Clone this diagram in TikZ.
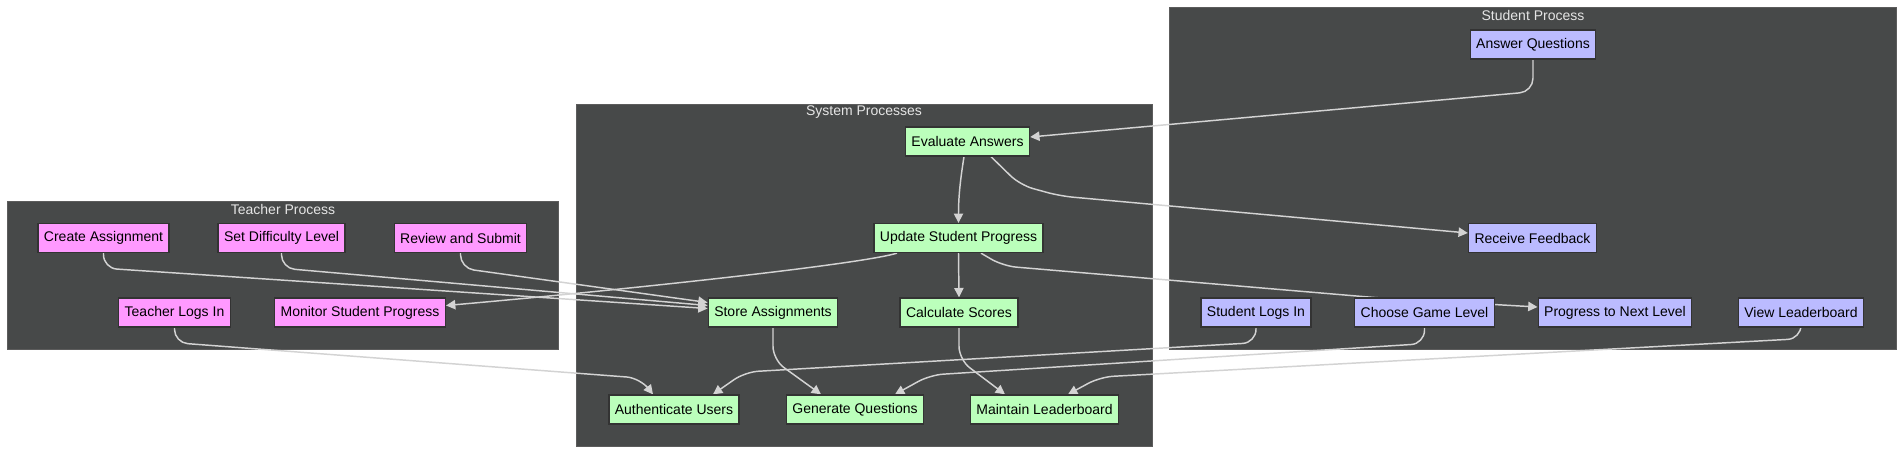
\documentclass[tikz,border=0pt]{standalone}
\usepackage{fontspec}
\setmainfont{Liberation Sans}
\usetikzlibrary{arrows.meta}
\definecolor{clusterbg}{HTML}{474949}
\definecolor{clusterline}{HTML}{5C5C5C}
\definecolor{teacherfill}{HTML}{FF99FF}
\definecolor{systemfill}{HTML}{BBFFBB}
\definecolor{studentfill}{HTML}{BBBBFF}
\definecolor{nodeline}{HTML}{333333}
\definecolor{edgecol}{HTML}{D3D3D3}
\pgfdeclarelayer{back}
\pgfdeclarelayer{mid}
\pgfsetlayers{back,mid,main}

\begin{document}
\begin{tikzpicture}[x=0.75pt,y=-0.75pt,
    box/.style={draw=nodeline,line width=1pt,minimum height=21.75pt,inner xsep=4.5pt,font=\fontsize{10.5}{12}\selectfont},
    teacher/.style={box,fill=teacherfill},
    system/.style={box,fill=systemfill},
    student/.style={box,fill=studentfill},
    flow/.style={draw=edgecol,line width=1.1pt,rounded corners=10pt,-{Triangle[length=7pt,width=7pt]}},
    title/.style={text=white!90!black,font=\fontsize{10.5}{12}\selectfont}]
            \useasboundingbox (0,0) rectangle (1904,454);
            % les trois groupes
            \begin{pgfonlayer}{back}
                \foreach \a/\b in {{(7,201)}/{(558,349)}, {(576,104)}/{(1152,446)}, {(1169,7)}/{(1896,349)}}{
                    \filldraw[fill=clusterbg, draw=clusterline, line width=.6pt] \a rectangle \b;
                }
            \end{pgfonlayer}
            \node[title] (tteacher) at (283,209) {Teacher Process};
            \node[title] (tsystem) at (864,112) {System Processes};
            \node[title] (tstudent) at (1533,15) {Student Process};

            % enseignant
            \node[teacher] (create) at (103.5,238) {Create Assignment};
            \node[teacher] (setlevel) at (281.5,238) {Set Difficulty Level};
            \node[teacher] (review) at (460.5,238) {Review and Submit};
            \node[teacher] (tlogin) at (174.5,312.5) {Teacher Logs In};
            \node[teacher] (monitor) at (360,312.5) {Monitor Student Progress};

            % système
            \node[system] (evaluate) at (967.5,141.5) {Evaluate Answers};
            \node[system] (update) at (958.5,238) {Update Student Progress};
            \node[system] (store) at (773,312.5) {Store Assignments};
            \node[system] (calc) at (959,312.5) {Calculate Scores};
            \node[system] (auth) at (674,409.5) {Authenticate Users};
            \node[system] (generate) at (855,409.5) {Generate Questions};
            \node[system] (board) at (1044.5,409.5) {Maintain Leaderboard};

            % élève
            \node[student] (answer) at (1533,44.5) {Answer Questions};
            \node[student] (feedback) at (1532.5,238) {Receive Feedback};
            \node[student] (slogin) at (1256,312.5) {Student Logs In};
            \node[student] (choose) at (1424.5,312.5) {Choose Game Level};
            \node[student] (nextlevel) at (1615,312.5) {Progress to Next Level};
            \node[student] (viewboard) at (1801,312.5) {View Leaderboard};

            \begin{pgfonlayer}{mid}
                \draw[flow] (create.south) -- ++(0,15) -- ([shift={(0,-4)}]store.west);
                \draw[flow] (setlevel.south) -- ++(0,15) -- ([shift={(0,-7)}]store.west);
                \draw[flow] (review.south) -- ++(0,15) -- ([shift={(0,-10)}]store.west);
                \draw[flow] ([shift={(-61.5,0)}]update.south) .. controls +(-40,12) and +(160,-14) .. ([shift={(0,-7)}]monitor.east);
                \draw[flow] (tlogin.south) -- ++(0,15) -- (640,378) -- ([shift={(-21,0)}]auth.north);
                \draw[flow] (store.south) -- ++(0,32) -- ([shift={(-34,0)}]generate.north);
                \draw[flow] (calc.south) -- ++(0,32) -- ([shift={(-39.5,0)}]board.north);
                \draw[flow] ([shift={(-3.5,0)}]evaluate.south) .. controls +(-4,25) and +(0,-25) .. (update.north);
                \draw[flow] (update.south) -- (calc.north);
                \draw[flow] ([shift={(23.5,0)}]evaluate.south) -- (1020,185) -- (1060,196) -- ([shift={(0,-5)}]feedback.west);
                \draw[flow] (answer.south) -- ++(0,32) -- ([shift={(0,-4.5)}]evaluate.east);
                \draw[flow] ([shift={(22.5,0)}]update.south) -- (1003,266) -- (1380,298) -- ([shift={(0,-5.5)}]nextlevel.west);
                \draw[flow] (slogin.south) -- ++(0,15) -- (745,372) -- ([shift={(39,0)}]auth.north);
                \draw[flow] (choose.south) -- ++(0,16) -- (930,375) -- ([shift={(40,0)}]generate.north);
                \draw[flow] (viewboard.south) -- ++(0,11) -- (1100,377) -- ([shift={(23.5,0)}]board.north);
            \end{pgfonlayer}
        \end{tikzpicture}
\end{document}
